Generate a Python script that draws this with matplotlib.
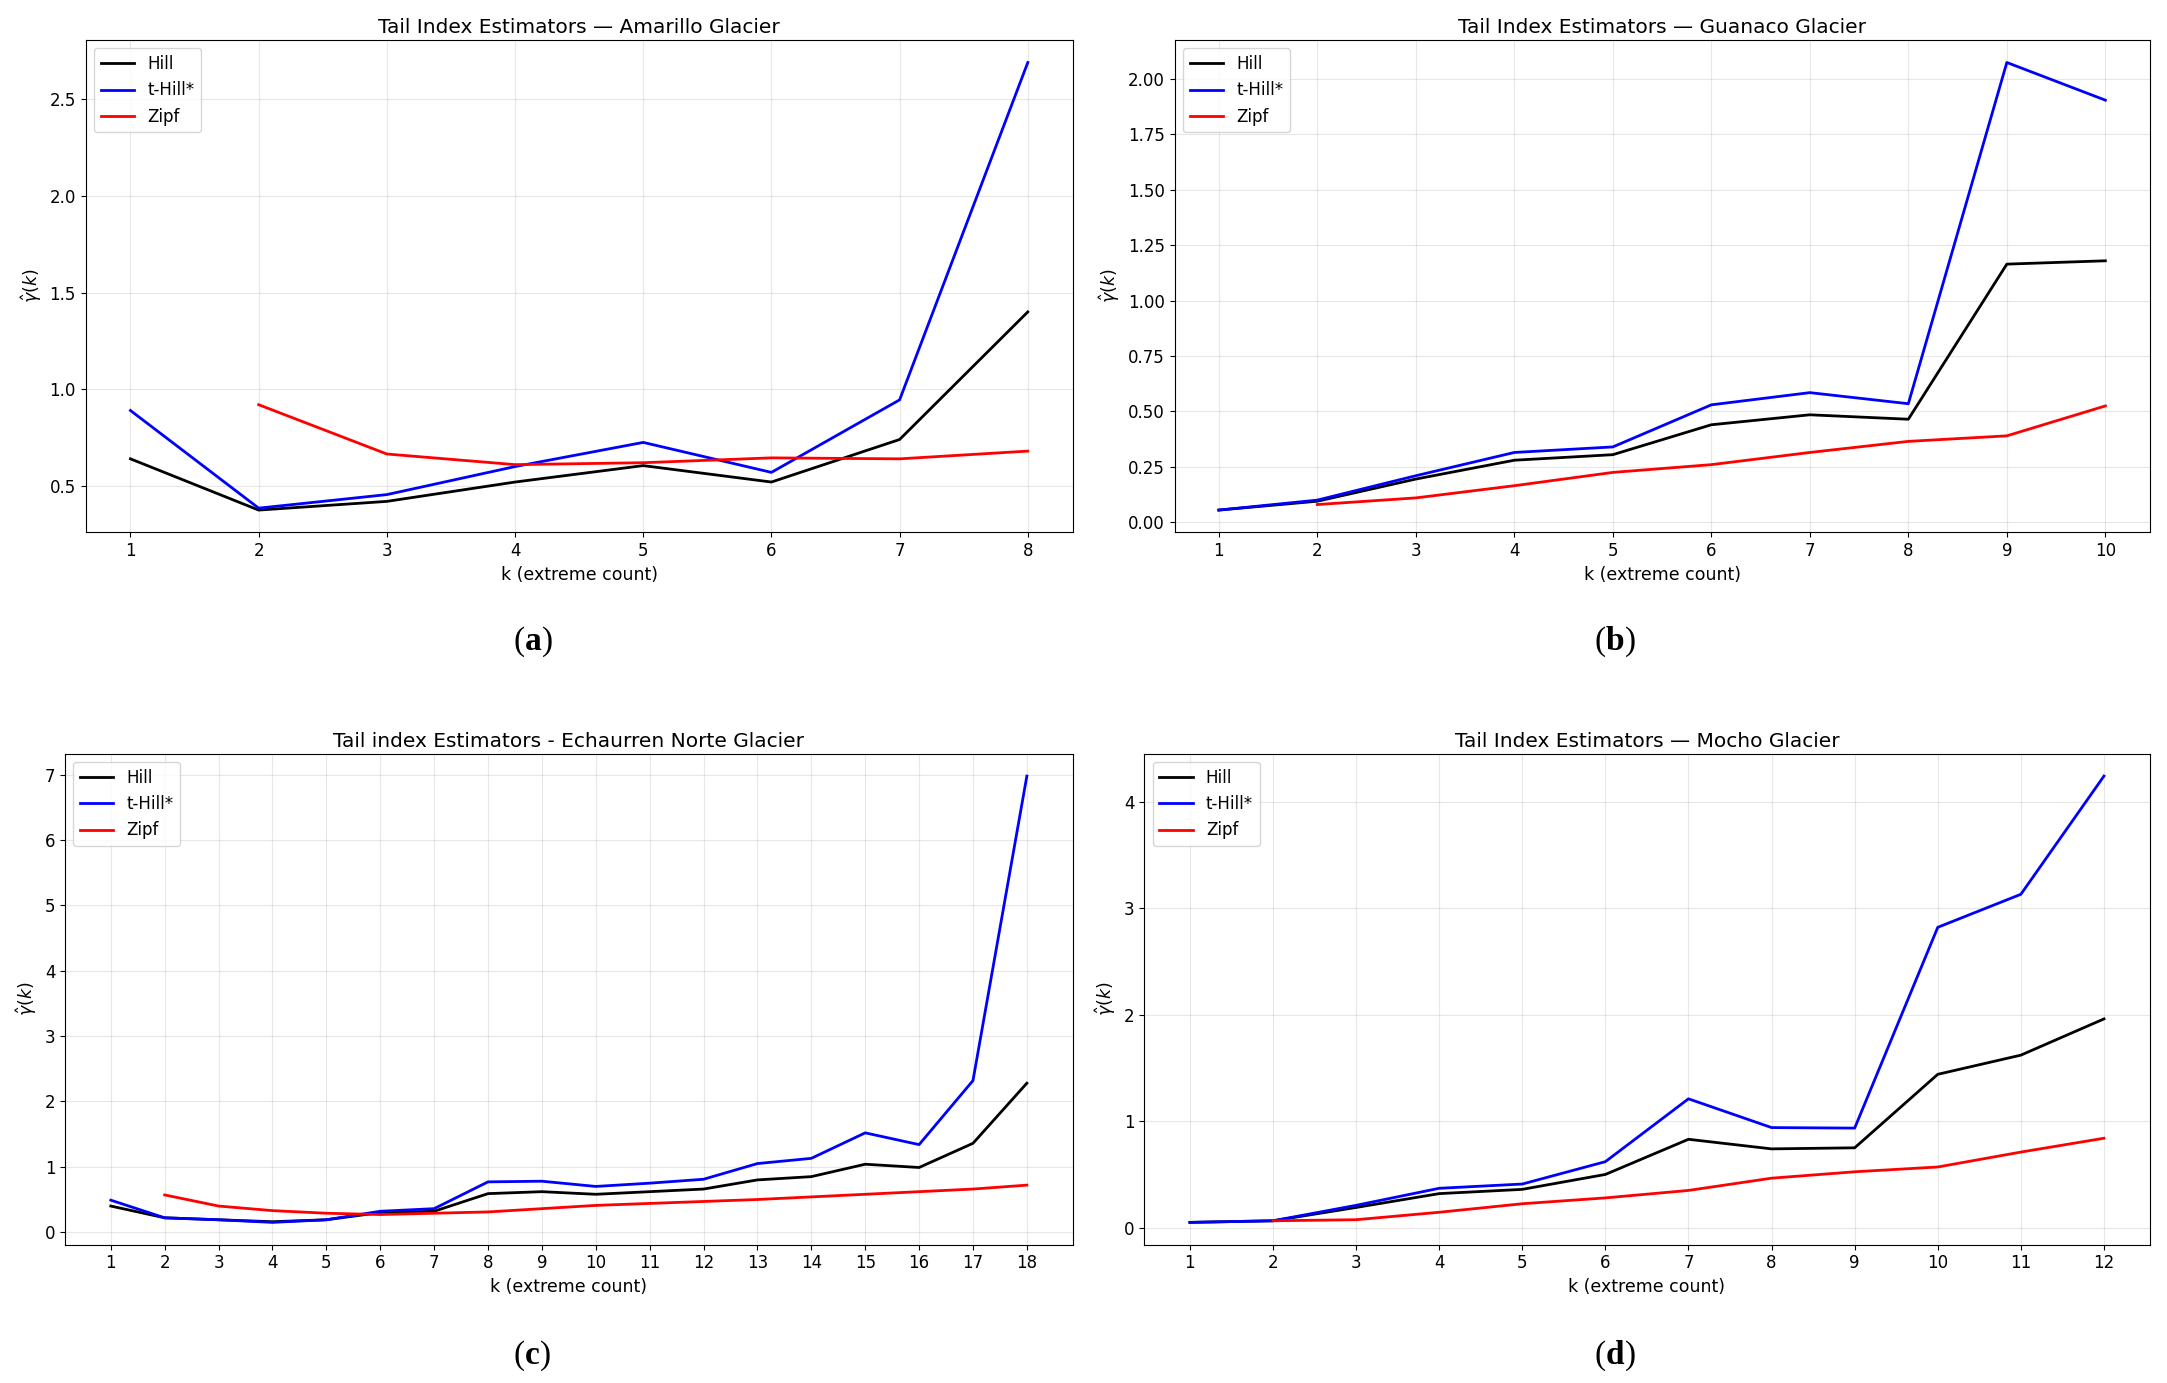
import numpy as np
import matplotlib
matplotlib.use("Agg")
import matplotlib.pyplot as plt
from matplotlib.text import Annotation

# Amarillo
k_a = [1, 2, 3, 4, 5, 6, 7, 8]
hill_a = [0.64, 0.375, 0.42, 0.52, 0.605, 0.52, 0.74, 1.40]
thill_a = [0.89, 0.385, 0.455, 0.60, 0.725, 0.57, 0.945, 2.69]
zipf_a = [0.92, 0.665, 0.61, 0.62, 0.645, 0.64, 0.68]

# Guanaco
k_b = [1, 2, 3, 4, 5, 6, 7, 8, 9, 10]
hill_b = [0.055, 0.095, 0.195, 0.28, 0.305, 0.44, 0.485, 0.465, 1.165, 1.18]
thill_b = [0.055, 0.10, 0.21, 0.315, 0.34, 0.53, 0.585, 0.535, 2.075, 1.905]
zipf_b = [0.08, 0.11, 0.165, 0.225, 0.26, 0.315, 0.365, 0.39, 0.525]

# Echaurren Norte
k_c = list(range(1, 19))
hill_c = [0.40, 0.22, 0.19, 0.16, 0.19, 0.30, 0.32, 0.59, 0.62, 0.58, 0.62, 0.66,
          0.80, 0.85, 1.04, 0.99, 1.36, 2.28]
thill_c = [0.49, 0.22, 0.19, 0.15, 0.19, 0.32, 0.36, 0.77, 0.78, 0.70, 0.75, 0.81,
           1.05, 1.13, 1.52, 1.34, 2.32, 6.98]
zipf_c = [0.57, 0.40, 0.33, 0.29, 0.27, 0.29, 0.31, 0.36, 0.41, 0.44, 0.47, 0.50,
          0.54, 0.58, 0.62, 0.66, 0.72]

# Mocho
k_d = list(range(1, 13))
hill_d = [0.05, 0.065, 0.19, 0.32, 0.36, 0.50, 0.83, 0.74, 0.75, 1.44, 1.62, 1.96]
thill_d = [0.05, 0.065, 0.21, 0.37, 0.41, 0.62, 1.21, 0.94, 0.935, 2.82, 3.13, 4.24]
zipf_d = [0.065, 0.075, 0.145, 0.225, 0.28, 0.35, 0.465, 0.525, 0.57, 0.71, 0.84]

titles = ["Tail Index Estimators \u2014 Amarillo Glacier",
          "Tail Index Estimators \u2014 Guanaco Glacier",
          "Tail index Estimators - Echaurren Norte Glacier",
          "Tail Index Estimators \u2014 Mocho Glacier"]
labels = ["a", "b", "c", "d"]

fig = plt.figure(figsize=(21.67, 13.83), dpi=100)

# axes rectangles [left, bottom, width, height]
rects = [[0.0395, 0.615, 0.4555, 0.356],
         [0.542, 0.615, 0.450, 0.356],
         [0.030, 0.100, 0.465, 0.355],
         [0.528, 0.100, 0.464, 0.355]]
label_pos = [(0.237, 0.530), (0.736, 0.530), (0.237, 0.014), (0.736, 0.014)]

panels = [(k_a, hill_a, thill_a, zipf_a),
          (k_b, hill_b, thill_b, zipf_b),
          (k_c, hill_c, thill_c, zipf_c),
          (k_d, hill_d, thill_d, zipf_d)]

for i, (k, h, t, z) in enumerate(panels):
    ax = fig.add_axes(rects[i])
    ax.plot(k, h, color="black", lw=2, label="Hill")
    ax.plot(k, t, color="blue", lw=2, label="t-Hill*")
    ax.plot(k[1:], z, color="red", lw=2, label="Zipf")
    ax.set_xticks(k)
    ax.set_title(titles[i], fontsize=14.5, pad=5)
    ax.set_xlabel("k (extreme count)", fontsize=12.5)
    ax.set_ylabel(r"$\hat{\gamma}(k)$", fontsize=12.5)
    ax.tick_params(labelsize=12)
    ax.grid(True, alpha=0.3)
    ax.legend(loc="upper left", fontsize=12)

    # panel label "(a)" with bold letter, pieces chained one after another
    t1 = fig.text(label_pos[i][0], label_pos[i][1], "(", fontsize=24,
                  family="Liberation Serif", ha="left", va="baseline")
    a2 = fig.add_artist(Annotation(
        labels[i], xy=(1, 0), xycoords=t1, fontsize=24,
        family="Liberation Serif", weight="bold", ha="left", va="bottom"))
    fig.add_artist(Annotation(
        ")", xy=(1, 0), xycoords=a2, fontsize=24,
        family="Liberation Serif", ha="left", va="bottom"))

fig.savefig("out.png", dpi=100)
